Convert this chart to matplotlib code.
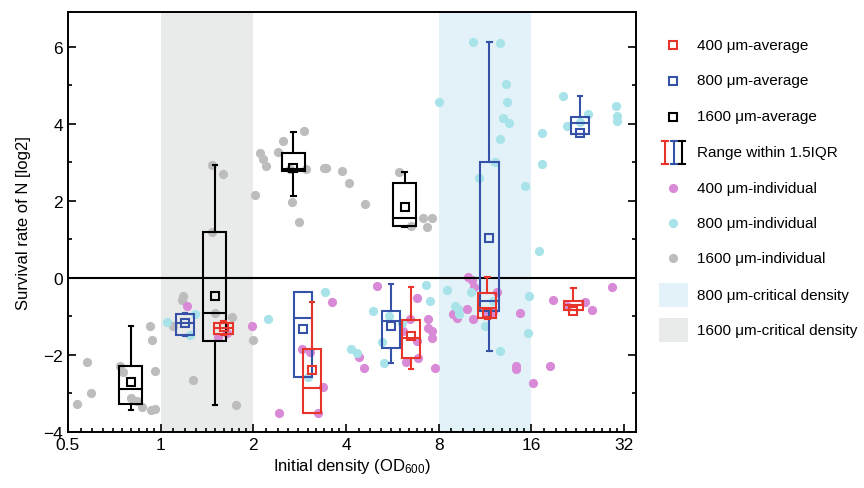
import matplotlib
matplotlib.use('Agg')
import matplotlib.pyplot as plt
from matplotlib.patches import Rectangle
from matplotlib.ticker import NullFormatter

plt.rcParams['font.family'] = ['Liberation Sans', 'DejaVu Sans']
plt.rcParams['mathtext.default'] = 'regular'

RED = '#e8352b'
BLUE = '#3552a8'
BLACK = '#000000'
PINK = '#d98ad6'
CYAN = '#a9e3ea'
GRAY = '#bdbdbd'

# individual measurements (initial OD600, log2 survival)
gray_x = [0.535, 0.576, 0.594, 0.74, 0.755, 0.92, 0.94, 0.96, 0.80, 0.84, 0.87, 0.93, 0.96,
          1.10, 1.18, 1.17, 1.27, 1.76, 1.50, 1.70, 2.0, 1.47, 1.59, 2.02, 1.47,
          2.10, 2.15, 2.20, 2.50, 2.40, 2.92, 2.67, 2.81, 2.96, 3.39, 3.44, 3.88, 4.09,
          4.61, 5.94, 7.11, 7.6, 7.33, 6.5, 2.63]
gray_y = [-3.27, -2.18, -2.99, -2.29, -2.44, -1.25, -1.61, -2.42, -3.12, -3.19, -3.35, -3.43, -3.40,
          -1.25, -0.47, -0.57, -2.65, -3.30, -0.91, -1.01, -1.61, 2.94, 2.70, 2.16, 1.19,
          3.25, 3.09, 2.91, 3.56, 3.27, 3.82, 1.97, 1.45, 2.83, 2.86, 2.86, 2.78, 2.47,
          1.92, 2.75, 1.56, 1.56, 1.32, 1.35, 2.83]

pink_x = [1.22, 1.98, 1.53, 1.64, 2.42, 3.60, 2.88, 3.05, 3.37, 3.24, 5.04, 4.40, 4.57,
          6.8, 7.38, 7.38, 7.6, 7.6, 7.78, 6.12, 6.26, 6.85, 6.45, 6.8,
          9.95, 10.25, 10.4, 8.9, 9.17, 10.33, 12.37, 12.0, 14.68, 14.25, 14.3, 16.2,
          18.4, 18.8, 20.87, 23.87, 25.2, 29.2, 9.88, 11.47]
pink_y = [-0.73, -1.25, -1.53, -1.43, -3.51, -0.62, -1.84, -1.92, -2.83, -3.51, -0.21, -2.05, -2.34,
          -0.52, -1.06, -1.30, -1.38, -1.56, -2.34, -1.38, -2.18, -2.08, -1.06, -1.64,
          0.03, -0.05, -0.23, -0.94, -1.04, -1.06, -0.36, -0.88, -0.91, -2.29, -2.36, -2.73,
          -2.29, -0.57, -0.73, -0.62, -0.83, -0.23, -0.81, -0.94]

cyan_x = [1.05, 1.29, 1.25, 2.23, 3.41, 3.01, 4.15, 4.34, 4.89, 5.51, 5.23, 5.31, 7.27, 7.49,
          6.08, 8.5, 9.03, 9.23, 9.3, 10.18, 11.3, 12.0, 12.64, 15.7, 15.58,
          10.33, 12.64, 13.22, 13.3, 12.93, 13.5, 12.64, 12.18, 10.8, 8.02, 15.24, 16.9,
          17.3, 17.3, 20.25, 20.9, 24.4, 30.1, 30.3, 30.3, 23.0]
cyan_y = [-1.14, -0.94, -1.48, -1.06, -0.36, -2.57, -1.84, -1.95, -0.86, -0.99, -1.66, -2.21, -0.18, -0.60,
          -1.17, -0.31, -0.73, -0.81, -0.94, -0.36, -1.25, -0.60, -1.90, -0.47, -1.43,
          6.13, 6.10, 5.04, 4.57, 4.16, 4.03, 3.61, 3.01, 2.60, 4.57, 2.39, 0.70,
          3.77, 2.96, 4.73, 3.95, 4.26, 4.47, 4.21, 4.08, 4.05]

# box statistics per group
red_pos = [1.6, 3.1, 6.5, 11.5, 21.9]
red_q1 = [-1.45, -3.50, -2.08, -1.05, -0.83]
red_med = [-1.31, -2.86, -1.57, -0.78, -0.69]
red_q3 = [-1.17, -1.84, -1.10, -0.40, -0.59]
red_lo = [-1.47, -3.50, -2.36, -1.07, -0.83]
red_hi = [-1.13, -0.62, -0.24, 0.02, -0.25]
red_mean = [-1.27, -2.38, -1.51, -0.92, -0.87]

blue_pos = [1.2, 2.9, 5.6, 11.7, 23.0]
blue_q1 = [-1.48, -2.57, -1.82, -0.85, 3.74]
blue_med = [-1.17, -1.04, -1.12, -0.61, 4.02]
blue_q3 = [-0.94, -0.37, -0.86, 3.0, 4.18]
blue_lo = [-1.50, -2.57, -2.20, -1.90, 3.74]
blue_hi = [-0.90, -0.36, -0.16, 6.13, 4.73]
blue_mean = [-1.17, -1.32, -1.25, 1.04, 3.77]

black_pos = [0.8, 1.5, 2.7, 6.2]
black_q1 = [-3.27, -1.64, 2.77, 1.34]
black_med = [-2.88, -0.91, 2.83, 1.55]
black_q3 = [-2.29, 1.19, 3.24, 2.47]
black_lo = [-3.43, -3.30, 2.14, 1.32]
black_hi = [-1.25, 2.94, 3.80, 2.75]
black_mean = [-2.70, -0.46, 2.85, 1.84]

xticks = [0.5, 1, 2, 4, 8, 16, 32]
xticklabels = ['0.5', '1', '2', '4', '8', '16', '32']


def draw_boxes(ax, pos, q1, med, q3, lo, hi, mean, color, width):
    lw = 1.5
    for i in range(len(pos)):
        x = pos[i]
        left = x * 2 ** (-width / 2)
        right = x * 2 ** (width / 2)
        ax.add_patch(Rectangle((left, q1[i]), right - left, q3[i] - q1[i],
                               fill=False, edgecolor=color, lw=lw, zorder=4))
        ax.plot([left, right], [med[i], med[i]], color=color, lw=lw, zorder=4)
        ax.plot([x, x], [q3[i], hi[i]], color=color, lw=lw, zorder=4)
        ax.plot([x, x], [q1[i], lo[i]], color=color, lw=lw, zorder=4)
        cl = x * 2 ** -0.025
        cr = x * 2 ** 0.025
        ax.plot([cl, cr], [hi[i], hi[i]], color=color, lw=lw, zorder=4)
        ax.plot([cl, cr], [lo[i], lo[i]], color=color, lw=lw, zorder=4)
    ax.plot(pos, mean, 's', mfc='none', mec=color, ms=6, mew=1.5, zorder=5)


fig = plt.figure(figsize=(8.64, 4.89), dpi=100)
ax = fig.add_axes([0.0787, 0.1145, 0.6574, 0.8585])
ax.set_xscale('log', base=2)
ax.set_xlim(0.5, 35)
ax.set_ylim(-4, 6.9)

ax.axvspan(1, 2, color='#e9eaea', lw=0, zorder=0)
ax.axvspan(8, 16, color='#e3f2f9', lw=0, zorder=0)
ax.axhline(0, color='k', lw=1.5, zorder=3)

ms = 44
ax.scatter(gray_x, gray_y, s=ms, color=GRAY, lw=0, zorder=2)
ax.scatter(pink_x, pink_y, s=ms, color=PINK, lw=0, zorder=2)
ax.scatter(cyan_x, cyan_y, s=ms, color=CYAN, lw=0, zorder=2)

draw_boxes(ax, black_pos, black_q1, black_med, black_q3, black_lo, black_hi, black_mean, BLACK, 0.25)
draw_boxes(ax, blue_pos, blue_q1, blue_med, blue_q3, blue_lo, blue_hi, blue_mean, BLUE, 0.2)
draw_boxes(ax, red_pos, red_q1, red_med, red_q3, red_lo, red_hi, red_mean, RED, 0.2)

ax.set_xticks(xticks)
ax.set_xticklabels(xticklabels)
minors = [b * (1 + k / 10) for b in xticks[:-1] for k in range(1, 10)]
ax.set_xticks(minors, minor=True)
ax.xaxis.set_minor_formatter(NullFormatter())
ax.set_yticks([-4, -2, 0, 2, 4, 6])
ax.set_yticks([-3, -1, 1, 3, 5], minor=True)
ax.tick_params(which='both', direction='in', right=True, labelsize=12.5, width=1.2)
ax.tick_params(which='major', length=6)
ax.tick_params(which='minor', length=3)
for s in ax.spines.values():
    s.set_linewidth(1.4)

ax.set_xlabel('Initial density (OD$_{600}$)', fontsize=12, labelpad=3)
ax.set_ylabel('Survival rate of N [log2]', fontsize=12, labelpad=9)

# legend drawn in figure pixel space
lax = fig.add_axes([0, 0, 1, 1])
lax.set_xlim(0, 864)
lax.set_ylim(489, 0)
lax.axis('off')
tx = 697
fs = 11
rows = [46, 81.5, 117.5, 153, 189, 224, 259, 296, 331]
labels = ['400 \u03bcm-average', '800 \u03bcm-average', '1600 \u03bcm-average',
          'Range within 1.5IQR', '400 \u03bcm-individual', '800 \u03bcm-individual',
          '1600 \u03bcm-individual', '800 \u03bcm-critical density', '1600 \u03bcm-critical density']
for c, y in zip([RED, BLUE, BLACK], rows[:3]):
    lax.plot([673], [y], 's', mfc='none', mec=c, ms=6, mew=1.5)
for c, xx in zip([RED, BLUE, BLACK], [665, 673.5, 682]):
    lax.plot([xx, xx], [142, 165], color=c, lw=1.5)
    lax.plot([xx - 3, xx + 3], [142, 142], color=c, lw=1.5)
    lax.plot([xx - 3, xx + 3], [165, 165], color=c, lw=1.5)
for c, y in zip([PINK, CYAN, GRAY], rows[4:7]):
    lax.scatter([673], [y], s=ms, color=c, lw=0)
lax.add_patch(Rectangle((659, 284), 29, 24, color='#e3f2f9', lw=0))
lax.add_patch(Rectangle((659, 319), 29, 24, color='#e9eaea', lw=0))
for lab, y in zip(labels, rows):
    lax.text(tx, y, lab, fontsize=fs, va='center', ha='left')

fig.savefig('out.png', dpi=100)
